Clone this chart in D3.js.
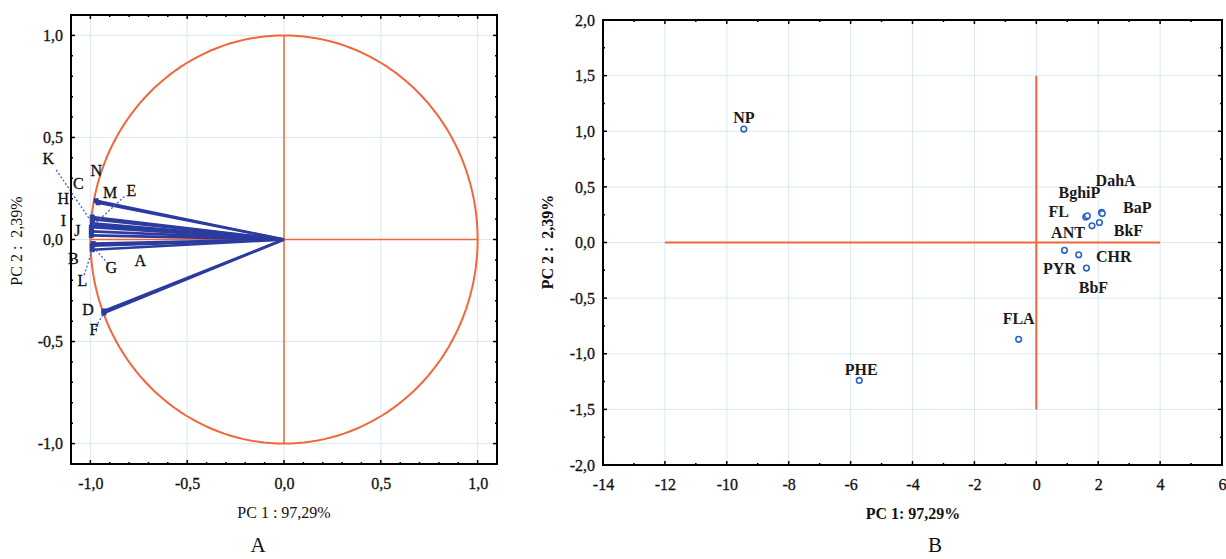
<!DOCTYPE html>
<html><head><meta charset="utf-8">
<script src="https://cdn.jsdelivr.net/npm/d3@7"></script>
<style>
body{margin:0;background:#fff;}
svg{display:block;font-family:"Liberation Serif","Times New Roman",serif;}
</style></head>
<body>
<svg id="c" width="1226" height="559"></svg>
<script>
// ---- Panel A: loadings ----
const loadVars = ["A","B","C","D","E","F","G","H","I","J","K","L","M","N"];
const loadPC1  = [-0.985,-0.995,-0.99,-0.93,-0.985,-0.93,-0.99,-0.99,-0.995,-0.995,-0.99,-0.99,-0.96,-0.97];
const loadPC2  = [-0.02, 0.02, 0.11,-0.35, 0.07,-0.36,-0.03, 0.10, 0.06, 0.04, 0.08,-0.05, 0.18, 0.19];
// label placement (pixels relative to vector end) and leader flag
const loadLabelDx = [47,-18,-14,-16,38,-10,19,-29,-28,-14,-44,-10,12,0];
const loadLabelDy = [17, 23,-34, -1,-35,17,22,-21, -7, -1,-65,31,-10,-30];
const loadLeader  = [0,0,0,0,1,1,1,0,0,0,1,1,0,0];
const ticksA = [-1.0,-0.5,0.0,0.5,1.0];

// ---- Panel B: scores ----
const scoreNames = ["NP","PHE","FLA","FL","BghiP","DahA","BaP","BkF","ANT","PYR","CHR","BbF"];
const scorePC1 = [-9.45,-5.72,-0.57,1.60,1.65,2.11,2.13,2.04,1.80,0.91,1.37,1.62];
const scorePC2 = [ 1.02,-1.24,-0.87,0.23,0.24,0.27,0.26,0.18,0.15,-0.07,-0.11,-0.23];
const scoreLabelDx = [0,2,0,-27,-8,14,35,29,-24,-5,35,7];
const scoreLabelDy = [-12,-11,-21,-5,-23,-32,-6,8,7,18,2,19];
const ticksBx = [-14,-12,-10,-8,-6,-4,-2,0,2,4,6];
const ticksBy = [-2.0,-1.5,-1.0,-0.5,0.0,0.5,1.0,1.5,2.0];

const svg = d3.select("#c");
const ORANGE = "#f2663a", BLUE = "#2b3b9e", PBLUE = "#2a64c4", GRID = "#d9e8f3";
const fmt = d => d3.format(".1f")(d).replace(".", ",").replace("\u2212", "-");
const fmtInt = d => d3.format("d")(d).replace("\u2212", "-");

function frame(g, x, y, xMajor, xMinor, yMajor, yMinor, xfmt, yfmt) {
  const [x0,x1] = x.range(), [y0,y1] = y.range();
  g.append("g").selectAll("line").data(xMajor).join("line")
    .attr("x1",d=>x(d)).attr("x2",d=>x(d)).attr("y1",y0).attr("y2",y1)
    .attr("stroke",GRID).attr("stroke-width",1);
  g.append("g").selectAll("line").data(yMajor).join("line")
    .attr("y1",d=>y(d)).attr("y2",d=>y(d)).attr("x1",x0).attr("x2",x1)
    .attr("stroke",GRID).attr("stroke-width",1);
  return function drawAxes(){
    const ax = g.append("g");
    ax.append("rect").attr("x",x0).attr("y",y1).attr("width",x1-x0).attr("height",y0-y1)
      .attr("fill","none").attr("stroke","#000").attr("stroke-width",2);
    const tk = (vals,len,isX)=>{
      vals.forEach(v=>{
        if(isX){
          ax.append("line").attr("x1",x(v)).attr("x2",x(v)).attr("y1",y0).attr("y2",y0-len).attr("stroke","#000").attr("stroke-width",1.5);
          ax.append("line").attr("x1",x(v)).attr("x2",x(v)).attr("y1",y1).attr("y2",y1+len).attr("stroke","#000").attr("stroke-width",1.5);
        } else {
          ax.append("line").attr("y1",y(v)).attr("y2",y(v)).attr("x1",x0).attr("x2",x0+len).attr("stroke","#000").attr("stroke-width",1.5);
          ax.append("line").attr("y1",y(v)).attr("y2",y(v)).attr("x1",x1).attr("x2",x1-len).attr("stroke","#000").attr("stroke-width",1.5);
        }
      });
    };
    tk(xMajor,4,true); tk(xMinor,2,true); tk(yMajor,4,false); tk(yMinor,2,false);
    const xa = d3.axisBottom(x).tickValues(xMajor).tickSize(0).tickPadding(14).tickFormat(xfmt);
    const ya = d3.axisLeft(y).tickValues(yMajor).tickSize(0).tickPadding(8).tickFormat(yfmt);
    const gx = ax.append("g").attr("transform",`translate(0,${y0})`).call(xa);
    const gy = ax.append("g").attr("transform",`translate(${x0},0)`).call(ya);
    [gx,gy].forEach(s=>{ s.select(".domain").remove();
      s.selectAll("text").attr("font-family","Liberation Serif").attr("font-size",16)
        .attr("fill","#111").attr("stroke","#111").attr("stroke-width",0.3); });
  };
}

// ===== Panel A =====
const xA = d3.scaleLinear().domain([-1.1,1.1]).range([71,497]);
const yA = d3.scaleLinear().domain([-1.1,1.1]).range([464,15]);
const gA = svg.append("g");
const minorA = d3.range(-11,12).map(d=>d/10).filter(d=>Math.abs(d*2-Math.round(d*2))>1e-6);
const axesA = frame(gA, xA, yA, ticksA, minorA, ticksA, minorA, fmt, fmt);

const circ = d3.range(0,361,2).map(a=>[Math.cos(a*Math.PI/180), Math.sin(a*Math.PI/180)]);
gA.append("path").datum(circ).attr("d", d3.line().x(d=>xA(d[0])).y(d=>yA(d[1])))
  .attr("fill","none").attr("stroke",ORANGE).attr("stroke-width",2);
gA.append("line").attr("x1",xA(-1)).attr("x2",xA(1)).attr("y1",yA(0)).attr("y2",yA(0)).attr("stroke",ORANGE).attr("stroke-width",1.5);
gA.append("line").attr("x1",xA(0)).attr("x2",xA(0)).attr("y1",yA(1)).attr("y2",yA(-1)).attr("stroke",ORANGE).attr("stroke-width",1.5);

const loads = loadVars.map((v,i)=>({v, x:loadPC1[i], y:loadPC2[i], dx:loadLabelDx[i], dy:loadLabelDy[i], lead:loadLeader[i]}));
gA.append("g").selectAll("line").data(loads).join("line")
  .attr("x1",xA(0)).attr("y1",yA(0)).attr("x2",d=>xA(d.x)).attr("y2",d=>yA(d.y))
  .attr("stroke",BLUE).attr("stroke-width",2.6);
gA.append("g").selectAll("rect").data(loads).join("rect")
  .attr("x",d=>xA(d.x)-2.5).attr("y",d=>yA(d.y)-2.5).attr("width",5).attr("height",5)
  .attr("fill",BLUE);
gA.append("g").selectAll("line").data(loads.filter(d=>d.lead)).join("line")
  .attr("x1",d=>xA(d.x)+d.dx*0.82).attr("y1",d=>yA(d.y)+d.dy*0.82)
  .attr("x2",d=>xA(d.x)).attr("y2",d=>yA(d.y))
  .attr("stroke","#3b62c8").attr("stroke-width",1.3).attr("stroke-dasharray","2,2");
gA.append("g").selectAll("text").data(loads).join("text")
  .attr("x",d=>xA(d.x)+d.dx).attr("y",d=>yA(d.y)+d.dy)
  .attr("text-anchor","middle").attr("dominant-baseline","central")
  .attr("font-size",16).attr("fill","#111").attr("stroke","#111").attr("stroke-width",0.3).text(d=>d.v);
axesA();

gA.append("text").attr("x",284).attr("y",518).attr("text-anchor","middle").attr("font-size",16).attr("fill","#111").text("PC 1 : 97,29%");
gA.append("text").attr("transform","translate(22,241) rotate(-90)").attr("text-anchor","middle").attr("font-size",16).attr("fill","#111").text("PC 2 :\u00A0 2,39%");
gA.append("text").attr("x",258).attr("y",552).attr("text-anchor","middle").attr("font-size",21).attr("fill","#111").text("A");

// ===== Panel B =====
const xB = d3.scaleLinear().domain([-14,6]).range([603,1222]);
const yB = d3.scaleLinear().domain([-2,2]).range([465,20]);
const gB = svg.append("g");
const axesB = frame(gB, xB, yB, ticksBx, d3.range(-13,6,2), ticksBy, d3.range(-1.75,2,0.5), fmtInt, fmt);
gB.append("line").attr("x1",xB(-12)).attr("x2",xB(4)).attr("y1",yB(0)).attr("y2",yB(0)).attr("stroke",ORANGE).attr("stroke-width",2);
gB.append("line").attr("x1",xB(0)).attr("x2",xB(0)).attr("y1",yB(1.5)).attr("y2",yB(-1.5)).attr("stroke",ORANGE).attr("stroke-width",2);

const scores = scoreNames.map((n,i)=>({n, x:scorePC1[i], y:scorePC2[i], dx:scoreLabelDx[i], dy:scoreLabelDy[i]}));
gB.append("g").selectAll("circle").data(scores).join("circle")
  .attr("cx",d=>xB(d.x)).attr("cy",d=>yB(d.y)).attr("r",2.8)
  .attr("fill","#fff").attr("stroke",PBLUE).attr("stroke-width",1.6);
gB.append("g").selectAll("text").data(scores).join("text")
  .attr("x",d=>xB(d.x)+d.dx).attr("y",d=>yB(d.y)+d.dy)
  .attr("text-anchor","middle").attr("dominant-baseline","central")
  .attr("font-size",16).attr("font-weight","bold").attr("fill","#1a1a1a").text(d=>d.n);
axesB();
gB.append("text").attr("x",913).attr("y",519).attr("text-anchor","middle").attr("font-size",16).attr("font-weight","bold").attr("fill","#111").text("PC 1: 97,29%");
gB.append("text").attr("transform","translate(553,242) rotate(-90)").attr("text-anchor","middle").attr("font-size",16).attr("font-weight","bold").attr("fill","#111").text("PC 2 :\u00A0 2,39%");
gB.append("text").attr("x",935).attr("y",552).attr("text-anchor","middle").attr("font-size",21).attr("fill","#111").text("B");
</script>
</body></html>
